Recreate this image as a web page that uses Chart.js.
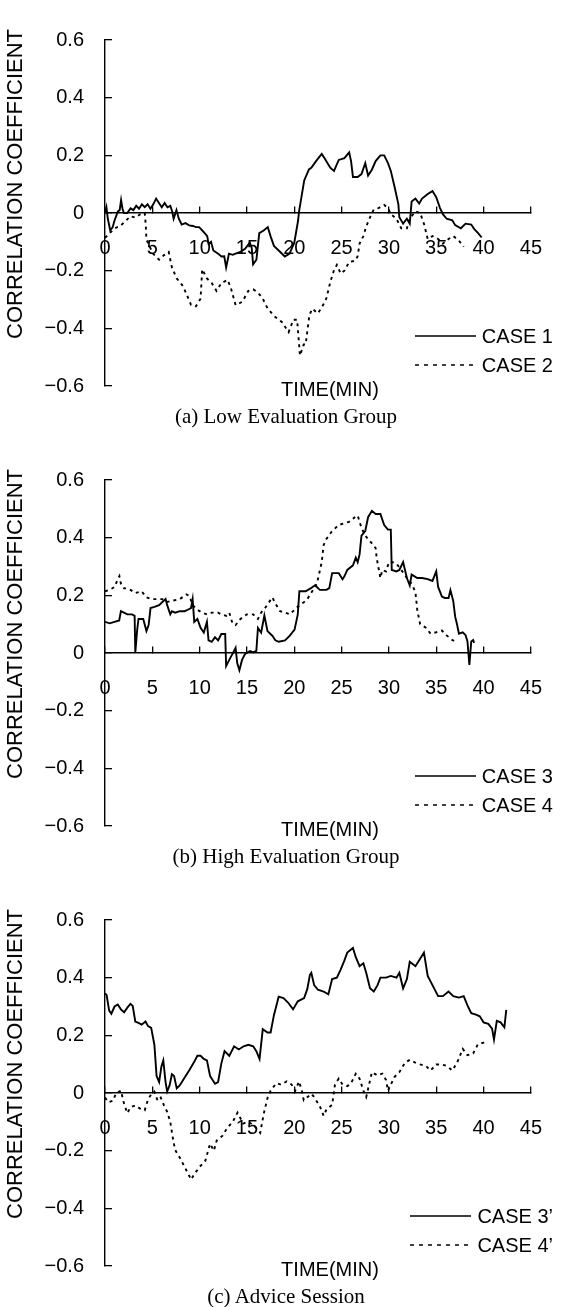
<!DOCTYPE html>
<html>
<head>
<meta charset="utf-8">
<script src="https://cdn.jsdelivr.net/npm/chart.js@4.4.1/dist/chart.umd.min.js"></script>
<style>
html,body{margin:0;padding:0;background:#fff;width:572px;height:1307px;overflow:hidden;}
.panel{position:absolute;left:0;width:572px;height:440px;}
.panel canvas{position:absolute;left:0;top:0;}
.ytitle{position:absolute;left:15px;top:184px;transform:translate(-50%,-50%) rotate(-90deg);font:22px "Liberation Sans",Arial,sans-serif;white-space:nowrap;color:#000;}
.xtitle{position:absolute;left:330px;top:389px;transform:translate(-50%,-50%);font:20px "Liberation Sans",Arial,sans-serif;white-space:nowrap;color:#000;}
.caption{position:absolute;left:286px;top:416px;transform:translate(-50%,-50%);font:21px "Liberation Serif","Times New Roman",serif;white-space:nowrap;color:#000;}
.leg{position:absolute;right:19px;height:24px;display:flex;align-items:center;font:20px "Liberation Sans",Arial,sans-serif;color:#000;white-space:nowrap;}
.leg svg{margin-right:6px;}
</style>
</head>
<body>
<script>
// ---------- tick labels ----------
const xTickLabels = ['0','5','10','15','20','25','30','35','40','45'];
const yTickLabels = ['\u22120.6','\u22120.4','\u22120.2','0','0.2','0.4','0.6'];

// ---------- panel captions / titles ----------
const captions = ['(a) Low Evaluation Group','(b) High Evaluation Group','(c) Advice Session'];
const yTitle = 'CORRELATION COEFFICIENT';
const xTitle = 'TIME(MIN)';
const seriesNames = [['CASE 1','CASE 2'],['CASE 3','CASE 4'],['CASE 3\u2019','CASE 4\u2019']];

// ---------- (a) Low Evaluation Group ----------
const case1T = [0,0.15,0.3,0.55,0.8,1.0,1.35,1.55,1.7,1.85,2.0,2.35,2.7,3.0,3.3,3.6,3.9,4.2,4.5,4.8,5.1,5.4,5.7,6.0,6.3,6.6,6.9,7.1,7.25,7.55,7.8,8.1,8.5,8.9,9.3,9.6,9.95,10.4,10.8,10.95,11.2,11.45,11.95,12.3,12.6,12.8,13.1,13.5,13.8,14.3,14.8,15.3,15.5,15.65,16.0,16.3,16.8,17.2,17.5,17.85,18.35,19.0,19.5,20.0,20.4,20.5,21.05,21.55,21.8,22.3,22.9,23.2,23.8,24.2,24.7,25.3,25.8,26.0,26.2,26.7,27.1,27.5,27.8,28.2,28.6,29.1,29.5,29.9,30.2,30.6,31.0,31.1,31.5,31.9,32.2,32.4,32.8,33.2,33.5,34.1,34.6,35.0,35.4,35.7,36.1,36.7,37.0,37.6,38.1,38.7,39.0,39.4,39.8];
const case1V = [0.0,0.02,-0.02,-0.06,-0.05,-0.027,0.005,0.01,0.045,0.015,0.0,0.0,0.016,0.01,0.025,0.015,0.03,0.02,0.03,0.015,0.03,0.05,0.035,0.02,0.035,0.02,0.025,0.005,-0.02,0.01,-0.02,-0.04,-0.035,-0.043,-0.045,-0.049,-0.049,-0.065,-0.08,-0.108,-0.1,-0.13,-0.141,-0.151,-0.15,-0.189,-0.141,-0.145,-0.141,-0.135,-0.124,-0.103,-0.12,-0.178,-0.162,-0.07,-0.06,-0.049,-0.081,-0.114,-0.13,-0.151,-0.141,-0.103,-0.027,0.005,0.113,0.151,0.157,0.18,0.205,0.19,0.157,0.146,0.184,0.19,0.21,0.18,0.125,0.125,0.135,0.173,0.13,0.15,0.18,0.2,0.2,0.173,0.146,0.09,0.03,-0.015,-0.037,-0.02,-0.037,0.04,0.05,0.033,0.05,0.066,0.076,0.055,0.017,-0.004,-0.02,-0.025,-0.042,-0.053,-0.037,-0.04,-0.055,-0.069,-0.085];
const case2T = [0,0.5,1.0,1.68,2.2,2.7,3.2,3.7,4.2,4.3,4.38,5.05,5.72,6.23,6.73,7.07,7.58,8.25,8.75,9.09,9.6,10.1,10.27,10.77,11.28,11.78,12.3,12.96,13.3,13.8,14.5,15.15,15.66,16.16,16.67,17.17,17.85,18.69,19.4,19.9,20.3,20.6,21.0,21.2,21.6,21.9,22.5,23.1,23.4,23.8,24.2,24.5,24.9,25.3,25.8,26.4,26.7,26.9,27.3,27.6,28.0,28.4,28.9,29.5,29.9,30.2,30.8,31.3,31.9,32.2,32.8,33.3,33.7,34.1,34.6,35.2,35.7,36.3,36.8,37.4,37.9];
const case2V = [-0.086,-0.07,-0.054,-0.043,-0.027,-0.011,-0.016,-0.005,0.0,-0.038,-0.092,-0.14,-0.162,-0.146,-0.135,-0.189,-0.227,-0.254,-0.292,-0.319,-0.324,-0.297,-0.195,-0.227,-0.243,-0.27,-0.243,-0.232,-0.26,-0.319,-0.308,-0.27,-0.265,-0.276,-0.297,-0.33,-0.357,-0.378,-0.413,-0.37,-0.37,-0.494,-0.456,-0.456,-0.354,-0.332,-0.348,-0.316,-0.295,-0.24,-0.198,-0.18,-0.21,-0.2,-0.17,-0.166,-0.15,-0.106,-0.08,-0.047,-0.015,0.012,0.017,0.028,0.017,-0.004,-0.02,-0.053,-0.053,-0.02,0.006,0.0,-0.037,-0.09,-0.08,-0.09,-0.106,-0.09,-0.08,-0.096,-0.117];

// ---------- (b) High Evaluation Group ----------
const case3T = [0,0.5,1.0,1.5,1.68,2.0,2.36,2.86,3.13,3.2,3.4,3.54,4.04,4.38,4.61,4.81,5.22,5.72,6.06,6.4,6.57,6.9,7.07,7.41,7.91,8.42,8.75,9.09,9.26,9.43,9.76,10.1,10.44,10.77,10.94,11.28,11.62,11.95,12.29,12.7,12.8,13.13,13.47,13.8,13.97,14.2,14.48,14.8,15.32,15.66,15.99,16.16,16.5,16.84,17.17,17.68,18.0,18.35,19.02,19.53,20.03,20.37,20.54,21.2,21.72,22.2,22.7,23.4,23.7,24.0,24.7,25.1,25.3,25.6,26.2,26.5,26.7,26.9,27.1,27.5,27.8,28.2,28.6,29.1,29.5,29.9,30.2,30.3,30.8,31.1,31.5,31.9,32.2,32.4,33.0,33.5,34.1,34.6,35.0,35.2,35.6,35.9,36.3,36.5,36.8,37.0,37.2,37.4,37.8,38.1,38.3,38.5,38.7,38.9,39.0];
const case3V = [0.108,0.103,0.108,0.113,0.145,0.14,0.134,0.134,0.129,0.0,0.08,0.118,0.118,0.076,0.097,0.156,0.16,0.166,0.177,0.187,0.166,0.134,0.145,0.14,0.145,0.145,0.15,0.156,0.187,0.108,0.118,0.087,0.071,0.108,0.044,0.039,0.055,0.044,0.066,0.066,-0.045,-0.024,-0.003,0.018,-0.035,-0.06,-0.024,-0.003,0.007,0.002,0.007,0.087,0.071,0.13,0.076,0.06,0.044,0.039,0.044,0.06,0.081,0.134,0.214,0.214,0.224,0.235,0.219,0.219,0.225,0.277,0.277,0.256,0.266,0.288,0.304,0.331,0.315,0.342,0.407,0.423,0.471,0.493,0.482,0.482,0.444,0.428,0.428,0.288,0.283,0.288,0.315,0.26,0.234,0.272,0.26,0.26,0.256,0.25,0.283,0.229,0.196,0.191,0.191,0.218,0.18,0.126,0.099,0.067,0.072,0.062,0.04,-0.041,0.04,0.045,0.035];
const case4T = [0,0.5,1.01,1.35,1.52,1.68,2.02,2.36,2.69,3.2,3.87,4.38,4.88,5.56,6.06,6.57,7.24,7.91,8.59,8.92,9.26,9.76,10.27,10.77,11.28,11.95,12.29,12.8,13.13,13.47,13.8,14.31,14.98,15.66,16.16,16.5,17.0,17.68,18.0,18.5,19.02,19.53,20.03,20.54,21.04,21.38,21.89,22.39,22.9,23.1,23.4,24.0,24.7,25.3,25.8,26.4,26.7,27.1,27.5,27.8,28.2,28.6,28.7,29.1,29.3,29.7,30.0,30.4,30.8,31.3,31.9,32.4,32.8,33.0,33.3,33.9,34.4,35.0,35.6,36.1,36.7,37.0];
const case4V = [0.214,0.219,0.229,0.256,0.267,0.241,0.224,0.224,0.219,0.208,0.214,0.193,0.187,0.187,0.187,0.177,0.182,0.187,0.203,0.198,0.166,0.15,0.14,0.134,0.14,0.14,0.134,0.129,0.14,0.103,0.097,0.118,0.134,0.134,0.118,0.14,0.16,0.193,0.172,0.145,0.14,0.134,0.15,0.166,0.177,0.187,0.214,0.24,0.315,0.374,0.396,0.423,0.444,0.45,0.455,0.471,0.477,0.434,0.407,0.396,0.38,0.364,0.331,0.26,0.288,0.283,0.315,0.315,0.31,0.288,0.26,0.24,0.212,0.148,0.1,0.088,0.067,0.072,0.078,0.061,0.045,0.04];

// ---------- (c) Advice Session ----------
const case3pT = [0,0.17,0.44,0.67,1.01,1.35,1.68,2.02,2.36,2.69,2.93,3.2,3.54,3.87,4.28,4.55,4.88,5.22,5.45,5.72,5.96,6.16,6.4,6.57,6.83,7.07,7.3,7.58,7.91,8.42,8.92,9.43,9.76,10.1,10.44,10.77,11.1,11.62,11.95,12.29,12.63,13.13,13.64,14.14,14.65,15.15,15.66,15.99,16.33,16.67,17.17,17.5,17.85,18.35,18.86,19.36,19.87,20.37,21.04,21.38,21.65,21.8,22.1,22.5,23.1,23.6,24.0,24.5,24.9,25.3,25.6,26.2,26.5,26.9,27.3,27.6,28.0,28.4,28.8,29.1,29.7,30.2,30.8,31.1,31.5,31.9,32.2,32.8,33.3,33.7,34.1,34.6,35.2,35.7,36.3,36.8,37.4,37.9,38.3,38.7,39.2,39.6,40.0,40.5,40.9,41.1,41.4,41.8,42.2,42.4];
const case3pV = [0.345,0.34,0.286,0.275,0.3,0.307,0.29,0.28,0.296,0.309,0.302,0.248,0.243,0.237,0.248,0.232,0.226,0.167,0.059,0.038,0.092,0.113,0.038,0.005,0.027,0.065,0.059,0.016,0.027,0.054,0.08,0.108,0.129,0.129,0.118,0.113,0.059,0.032,0.038,0.102,0.145,0.129,0.162,0.151,0.162,0.167,0.162,0.145,0.118,0.221,0.21,0.21,0.27,0.334,0.329,0.313,0.29,0.318,0.329,0.361,0.41,0.417,0.374,0.358,0.352,0.342,0.395,0.4,0.428,0.46,0.487,0.503,0.471,0.44,0.45,0.417,0.363,0.352,0.374,0.4,0.4,0.406,0.4,0.417,0.363,0.395,0.455,0.44,0.466,0.487,0.406,0.374,0.336,0.336,0.352,0.336,0.331,0.336,0.304,0.277,0.272,0.266,0.245,0.24,0.223,0.185,0.25,0.245,0.228,0.288];
const case4pT = [0,0.34,0.84,1.18,1.68,2.02,2.36,2.69,3.2,3.7,4.2,4.55,4.88,5.22,5.56,5.89,6.23,6.57,6.9,7.1,7.4,8.0,8.5,9.1,9.4,10.0,10.6,11.1,11.5,11.8,12.4,12.9,13.5,14.0,14.6,15.1,15.7,16.4,16.8,17.2,17.5,18.1,18.6,19.2,19.7,20.1,20.5,20.8,21.0,21.4,21.8,22.1,22.7,23.1,23.4,24.0,24.3,24.7,25.1,25.6,26.0,26.5,26.9,27.3,27.6,28.2,28.8,29.3,29.7,29.9,30.2,30.6,31.1,31.7,32.2,32.8,33.3,33.9,34.4,35.0,35.6,36.1,36.7,37.2,37.8,38.3,38.9,39.4,40.0,40.3];
const case4pV = [-0.016,-0.032,-0.027,0.0,0.008,-0.038,-0.07,-0.05,-0.043,-0.054,-0.06,-0.022,-0.005,0.005,-0.027,-0.016,-0.043,-0.065,-0.1,-0.143,-0.197,-0.23,-0.262,-0.3,-0.283,-0.256,-0.235,-0.176,-0.2,-0.165,-0.149,-0.122,-0.1,-0.068,-0.106,-0.1,-0.111,-0.138,-0.068,-0.014,0.008,0.034,0.029,0.04,0.03,0.008,0.04,0.008,-0.025,-0.014,-0.003,-0.014,-0.046,-0.079,-0.057,-0.041,0.029,0.05,0.029,0.024,0.034,0.067,0.05,0.008,-0.014,0.072,0.061,0.067,0.045,0.008,0.029,0.056,0.072,0.105,0.115,0.105,0.099,0.094,0.078,0.099,0.099,0.094,0.078,0.105,0.153,0.131,0.137,0.169,0.175,0.18];

const panelSeries = [
  [[case1T, case1V], [case2T, case2V]],
  [[case3T, case3V], [case4T, case4V]],
  [[case3pT, case3pV], [case4pT, case4pV]]
];

const FONT = '"Liberation Sans", Arial, sans-serif';
const solidStyle = {borderDash: [], width: 1.9};
const dotStyle = {borderDash: [3, 4], width: 1.9};

function toPoints(t, v) { return t.map((x, i) => ({x: x, y: v[i]})); }

function makeLegendSample(dashed) {
  const ns = 'http://www.w3.org/2000/svg';
  const svg = document.createElementNS(ns, 'svg');
  svg.setAttribute('width', '61'); svg.setAttribute('height', '6');
  const ln = document.createElementNS(ns, 'line');
  ln.setAttribute('x1', '0'); ln.setAttribute('y1', '3');
  ln.setAttribute('x2', '61'); ln.setAttribute('y2', '3');
  ln.setAttribute('stroke', '#000'); ln.setAttribute('stroke-width', '1.6');
  if (dashed) ln.setAttribute('stroke-dasharray', '4 5');
  svg.appendChild(ln);
  return svg;
}

panelSeries.forEach((series, p) => {
  const div = document.createElement('div');
  div.className = 'panel';
  div.style.top = (p * 440) + 'px';
  document.body.appendChild(div);

  const cv = document.createElement('canvas');
  cv.width = 572; cv.height = 440;
  cv.style.width = '572px'; cv.style.height = '440px';
  div.appendChild(cv);

  const yt = document.createElement('div'); yt.className = 'ytitle'; yt.textContent = yTitle; div.appendChild(yt);
  const xt = document.createElement('div'); xt.className = 'xtitle'; xt.textContent = xTitle; div.appendChild(xt);
  const cp = document.createElement('div'); cp.className = 'caption'; cp.textContent = captions[p]; div.appendChild(cp);

  [336, 365].forEach((cy, k) => {
    const row = document.createElement('div');
    row.className = 'leg';
    row.style.top = (cy - 12) + 'px';
    row.appendChild(makeLegendSample(k === 1));
    const sp = document.createElement('span'); sp.textContent = seriesNames[p][k];
    row.appendChild(sp);
    div.appendChild(row);
  });

  new Chart(cv.getContext('2d'), {
    type: 'line',
    data: {
      datasets: series.map((s, k) => ({
        label: seriesNames[p][k],
        data: toPoints(s[0], s[1]),
        borderColor: '#000',
        borderWidth: (k === 0 ? solidStyle : dotStyle).width,
        borderDash: (k === 0 ? solidStyle : dotStyle).borderDash,
        pointRadius: 0,
        tension: 0,
        fill: false
      }))
    },
    options: {
      responsive: false,
      animation: false,
      devicePixelRatio: 1,
      events: [],
      layout: {padding: {left: 0, right: 21, top: 18, bottom: 54}},
      plugins: {legend: {display: false}, tooltip: {enabled: false}, title: {display: false}},
      scales: {
        x: {
          type: 'linear', min: 0, max: 45,
          position: {y: 0},
          border: {display: true, color: '#000', width: 1.4},
          grid: {display: true, drawOnChartArea: false, drawTicks: true, tickLength: -7, color: '#000', lineWidth: 1.3},
          ticks: {stepSize: 5, autoSkip: false, maxRotation: 0, padding: 30, color: '#000',
                  font: {family: FONT, size: 20}, callback: (v, i) => xTickLabels[i]}
        },
        y: {
          type: 'linear', min: -0.6, max: 0.6, position: 'left',
          afterFit: (s) => { s.width = 105; },
          border: {display: true, color: '#000', width: 1.4},
          grid: {display: true, drawOnChartArea: false, drawTicks: true, tickLength: -7, color: '#000', lineWidth: 1.3},
          ticks: {stepSize: 0.2, autoSkip: false, padding: 28, color: '#000',
                  font: {family: FONT, size: 20}, callback: (v, i) => yTickLabels[i]}
        }
      }
    }
  });
});
</script>
</body>
</html>
